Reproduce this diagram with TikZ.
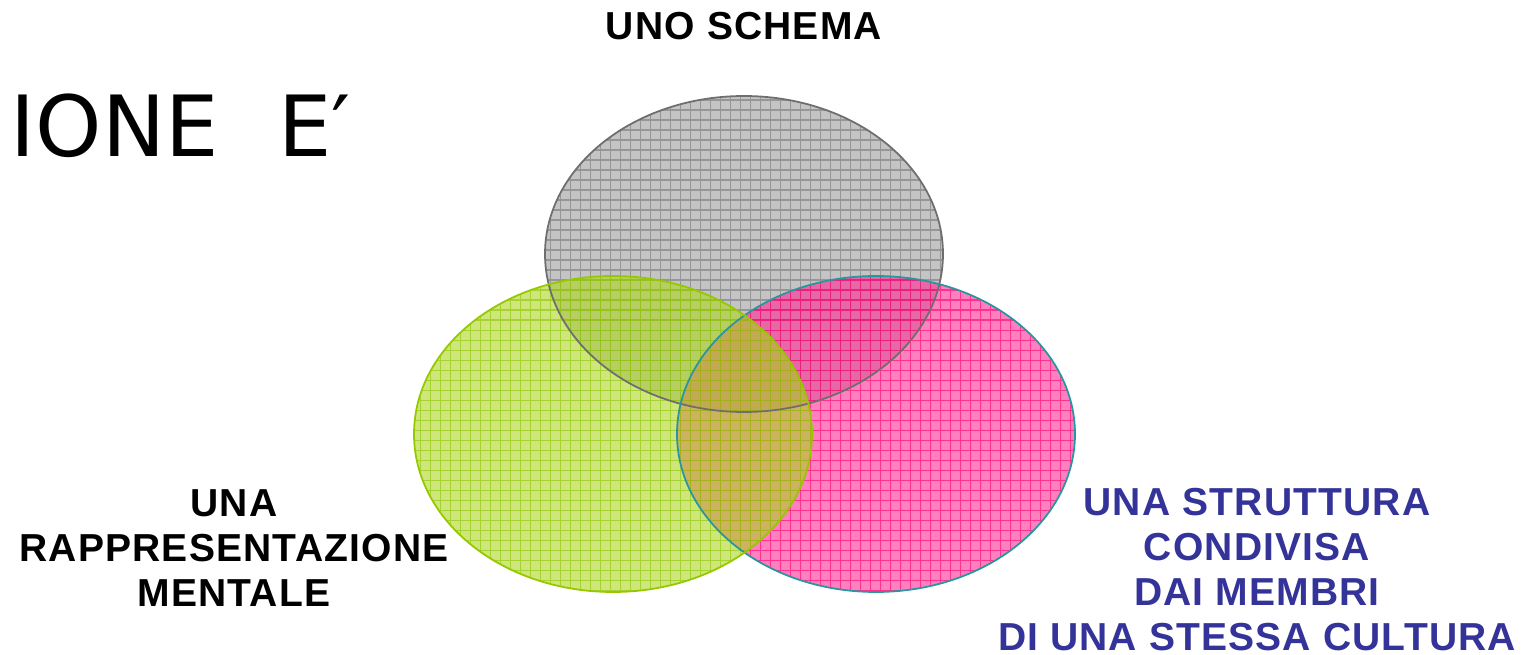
\documentclass[tikz,border=0pt]{standalone}
\usepackage{fontspec}
\setmainfont{Liberation Sans}
\newfontfamily\titlefont{DejaVu Sans}
\newfontfamily\lblfont{Liberation Sans}[LetterSpace=3]
\usepackage{tikz}

\definecolor{grayfill}{RGB}{157,157,157}
\definecolor{grayline}{RGB}{120,120,120}
\definecolor{grayedge}{RGB}{110,110,110}
\definecolor{greenfill}{RGB}{173,213,33}
\definecolor{greenline}{RGB}{140,200,0}
\definecolor{greenedge}{RGB}{150,200,0}
\definecolor{pinkfill}{RGB}{255,43,147}
\definecolor{pinkline}{RGB}{255,0,110}
\definecolor{pinkedge}{RGB}{40,150,160}
\definecolor{lblblue}{RGB}{51,51,153}

\begin{document}
\begin{tikzpicture}[x=0.01cm,y=-0.01cm,
  lbl/.style={font={\lblfont\bfseries\fontsize{11.1}{12.76}\selectfont},align=center,inner sep=0pt}]
\useasboundingbox (0,0) rectangle (1538,655);

\coordinate (schema) at (744,254);
\coordinate (mente) at (613,434);
\coordinate (cultura) at (876,434);

% the three sets
\foreach \c/\f/\l in {schema/grayfill/grayline,cultura/pinkfill/pinkline,mente/greenfill/greenline}{
  \fill[\f,fill opacity=0.6] (\c) ellipse [x radius=199,y radius=158];
  \begin{scope}
    \clip (\c) ellipse [x radius=199,y radius=158];
    \draw[\l,line width=0.4pt,step=0.1cm,draw opacity=0.6] (\c) ++(-205,-165) grid ++(410,330);
  \end{scope}
}
\foreach \c/\e in {schema/grayedge,cultura/pinkedge,mente/greenedge}
  \draw[\e,line width=0.5pt] (\c) ellipse [x radius=199,y radius=158];

\node[anchor=base west,inner sep=0pt,font={\titlefont\fontsize{24}{28}\selectfont}] (titolo) at (10,157) {IONE\hspace{0.6cm}E′};

\node[lbl,anchor=base] (schemalbl) at (744,40) {UNO SCHEMA};
\node[lbl,anchor=north] (mentelbl) at (234,489) {UNA\\RAPPRESENTAZIONE\\MENTALE};
\node[lbl,anchor=north,text=lblblue] (culturalbl) at (1257,488) {UNA STRUTTURA\\CONDIVISA\\DAI MEMBRI\\DI UNA STESSA CULTURA};

\end{tikzpicture}
\end{document}
